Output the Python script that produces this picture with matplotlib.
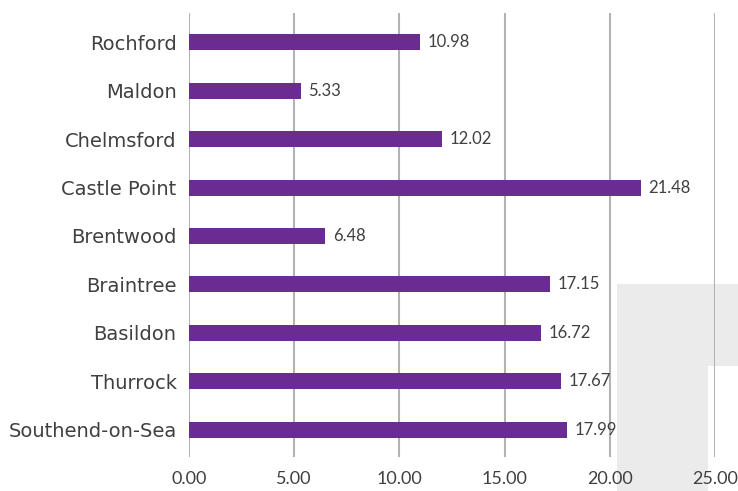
import matplotlib
matplotlib.use("Agg")
import matplotlib.pyplot as plt
from matplotlib.patches import Polygon

# Data (top to bottom as shown)
districts = ["Rochford", "Maldon", "Chelmsford", "Castle Point", "Brentwood",
             "Braintree", "Basildon", "Thurrock", "Southend-on-Sea"]
values = [10.98, 5.33, 12.02, 21.48, 6.48, 17.15, 16.72, 17.67, 17.99]
xticks = [0, 5, 10, 15, 20, 25]

plt.rcParams['font.family'] = ['Lato', 'DejaVu Sans']

fig = plt.figure(figsize=(7.38, 4.91), dpi=100)

# light grey block behind the lower right corner
shade = Polygon([(0.836, 0.0), (0.836, 0.4216), (1.0, 0.4216), (1.0, 0.2546),
                 (0.9593, 0.2546), (0.9593, 0.0)], closed=True,
                transform=fig.transFigure, facecolor='#ebebeb', edgecolor='none', zorder=-5)
fig.patches.append(shade)

ax = fig.add_axes([0.2561, 0.0692, 0.7127, 0.9043])
ax.set_facecolor('none')

pos = list(range(len(districts) - 1, -1, -1))
ax.barh(pos, values, height=0.33, color='#6a2c91', zorder=3)

for p, v in zip(pos, values):
    ax.text(v + 0.35, p, f"{v:.2f}", va='center', ha='left', fontsize=12, color='#404040', zorder=4)

ax.set_yticks(pos)
ax.set_yticklabels(districts, fontsize=14, color='#404040', family=['DejaVu Sans'])
ax.set_xticks(xticks)
ax.set_xticklabels([f"{t:.2f}" for t in xticks], fontsize=13, color='#404040')
ax.set_xlim(0, 25)
ax.set_ylim(-0.56, 8.6)

ax.grid(axis='x', color='#b3b3b3', linewidth=1.5, zorder=1)
ax.set_axisbelow(True)
for s in ax.spines.values():
    s.set_visible(False)
ax.tick_params(axis='both', length=0)
ax.tick_params(axis='y', pad=9)
ax.tick_params(axis='x', pad=10)

fig.savefig("out.png", dpi=100)
